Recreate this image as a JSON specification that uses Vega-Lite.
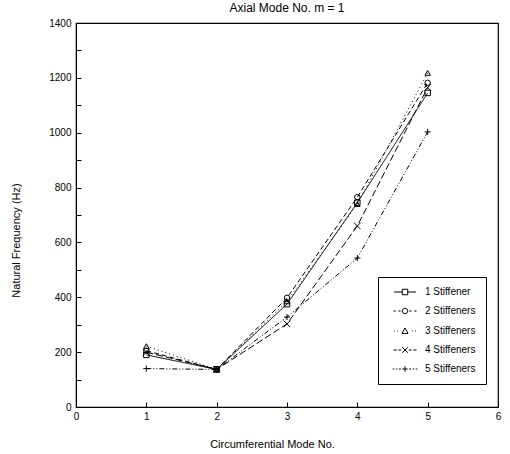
{
  "$schema": "https://vega.github.io/schema/vega-lite/v6.json",
  "autosize": {"type": "none"},
  "padding": {"left": 76, "top": 23, "right": 12, "bottom": 47},
  "width": 422,
  "height": 384,
  "background": "white",
  "config": {
    "font": "Liberation Sans",
    "view": {"stroke": "black", "strokeWidth": 1.2},
    "axis": {"domainColor": "black", "tickColor": "black", "labelColor": "black", "titleColor": "black", "labelFont": "Liberation Sans", "titleFont": "Liberation Sans", "labelFontSize": 10, "titleFontSize": 11, "titleFontWeight": "normal", "grid": false}
  },
  "title": {"text": "Axial Mode No. m = 1", "fontSize": 12, "fontWeight": "normal", "font": "Liberation Sans", "color": "black", "offset": 3},
  "data": {
    "values": [
      {"mode": 1, "freq": 190, "series": "1 Stiffener"},
      {"mode": 2, "freq": 137, "series": "1 Stiffener"},
      {"mode": 3, "freq": 375, "series": "1 Stiffener"},
      {"mode": 4, "freq": 745, "series": "1 Stiffener"},
      {"mode": 5, "freq": 1145, "series": "1 Stiffener"},
      {"mode": 1, "freq": 205, "series": "2 Stiffeners"},
      {"mode": 2, "freq": 137, "series": "2 Stiffeners"},
      {"mode": 3, "freq": 398, "series": "2 Stiffeners"},
      {"mode": 4, "freq": 765, "series": "2 Stiffeners"},
      {"mode": 5, "freq": 1182, "series": "2 Stiffeners"},
      {"mode": 1, "freq": 222, "series": "3 Stiffeners"},
      {"mode": 2, "freq": 137, "series": "3 Stiffeners"},
      {"mode": 3, "freq": 385, "series": "3 Stiffeners"},
      {"mode": 4, "freq": 740, "series": "3 Stiffeners"},
      {"mode": 5, "freq": 1218, "series": "3 Stiffeners"},
      {"mode": 1, "freq": 200, "series": "4 Stiffeners"},
      {"mode": 2, "freq": 137, "series": "4 Stiffeners"},
      {"mode": 3, "freq": 303, "series": "4 Stiffeners"},
      {"mode": 4, "freq": 660, "series": "4 Stiffeners"},
      {"mode": 5, "freq": 1165, "series": "4 Stiffeners"},
      {"mode": 1, "freq": 140, "series": "5 Stiffeners"},
      {"mode": 2, "freq": 137, "series": "5 Stiffeners"},
      {"mode": 3, "freq": 328, "series": "5 Stiffeners"},
      {"mode": 4, "freq": 543, "series": "5 Stiffeners"},
      {"mode": 5, "freq": 1003, "series": "5 Stiffeners"}
    ]
  },
  "encoding": {
    "x": {"field": "mode", "type": "quantitative", "scale": {"domain": [0, 6], "nice": false},
      "axis": {"title": "Circumferential Mode No.", "format": "d", "values": [0, 0.5, 1, 1.5, 2, 2.5, 3, 3.5, 4, 4.5, 5, 5.5, 6], "labelExpr": "datum.value % 1 == 0 ? format(datum.value, 'd') : ''", "tickSize": -5, "labelPadding": 9, "titleX": 196, "titleY": 31, "labelFlush": false, "labelOverlap": false}},
    "y": {"field": "freq", "type": "quantitative", "scale": {"domain": [0, 1400], "nice": false},
      "axis": {"title": "Natural Frequency (Hz)", "format": "d", "values": [0, 100, 200, 300, 400, 500, 600, 700, 800, 900, 1000, 1100, 1200, 1300, 1400], "labelExpr": "datum.value % 200 == 0 ? format(datum.value, 'd') : ''", "tickSize": -5, "labelPadding": 10, "titleY": 217, "titleX": -55, "labelFlush": false, "labelOverlap": false}}
  },
  "layer": [
    {
      "mark": {"type": "line", "color": "black", "strokeWidth": 1},
      "encoding": {
        "strokeDash": {"field": "series", "type": "nominal",
          "scale": {"domain": ["1 Stiffener", "2 Stiffeners", "3 Stiffeners", "4 Stiffeners", "5 Stiffeners"], "range": [[1, 0], [5, 3], [1, 3], [7, 3], [5, 2, 1, 2, 1, 2]]},
          "legend": null}
      }
    },
    {
      "mark": {"type": "point", "color": "black", "filled": false, "strokeWidth": 1, "size": 30, "opacity": 1},
      "encoding": {
        "shape": {"field": "series", "type": "nominal",
          "scale": {"domain": ["1 Stiffener", "2 Stiffeners", "3 Stiffeners", "4 Stiffeners", "5 Stiffeners"],
            "range": ["M-1,-1L1,-1L1,1L-1,1Z", "circle", "triangle-up", "M-1.2,-1.2L1.2,1.2M-1.2,1.2L1.2,-1.2", "M-1.1,0L1.1,0M0,-1.1L0,1.1"]},
          "legend": null}
      }
    },
    {
      "transform": [{"filter": "false"}],
      "mark": {"type": "point", "color": "black", "filled": false, "strokeWidth": 1, "size": 30, "opacity": 1},
      "encoding": {
        "shape": {"field": "series", "type": "nominal",
          "scale": {"domain": ["1 Stiffener", "2 Stiffeners", "3 Stiffeners", "4 Stiffeners", "5 Stiffeners"],
            "range": [
              "M-4,0L-1,0M1,0L4,0M-1,-1L1,-1L1,1L-1,1Z",
              "M-4.2,0L-3.4,0M-2.4,0L-1.6,0M1.6,0L2.4,0M3.4,0L4.2,0M-1,0A1,1,0,1,0,1,0A1,1,0,1,0,-1,0",
              "M-4,0L-3.7,0M-2.8,0L-2.5,0M2.5,0L2.8,0M3.7,0L4,0M0,-1.1L1.1,0.9L-1.1,0.9Z",
              "M-4.2,0L-3,0M-2.4,0L-1.4,0M1.4,0L2.4,0M3,0L4.2,0M-1,-1L1,1M-1,1L1,-1",
              "M-4.5,0L-3.9,0M-3.3,0L-2.8,0M-2.2,0L-1.5,0M-1,0L1,0M0,-1L0,1M1.5,0L2.2,0M2.8,0L3.3,0M3.9,0L4.5,0"
            ]},
          "legend": {"title": null, "orient": "none", "legendX": 302, "legendY": 254, "direction": "vertical",
            "strokeColor": "black", "fillColor": "white", "padding": 10, "rowPadding": 9,
            "symbolSize": 30, "symbolStrokeColor": "black", "symbolStrokeWidth": 1, "symbolOpacity": 1,
            "symbolOffset": 12, "labelOffset": 15, "labelFontSize": 10, "labelColor": "black", "labelFont": "Liberation Sans", "labelLimit": 200, "offset": 0}}
      }
    }
  ],
  "resolve": {"scale": {"shape": "independent"}}
}
